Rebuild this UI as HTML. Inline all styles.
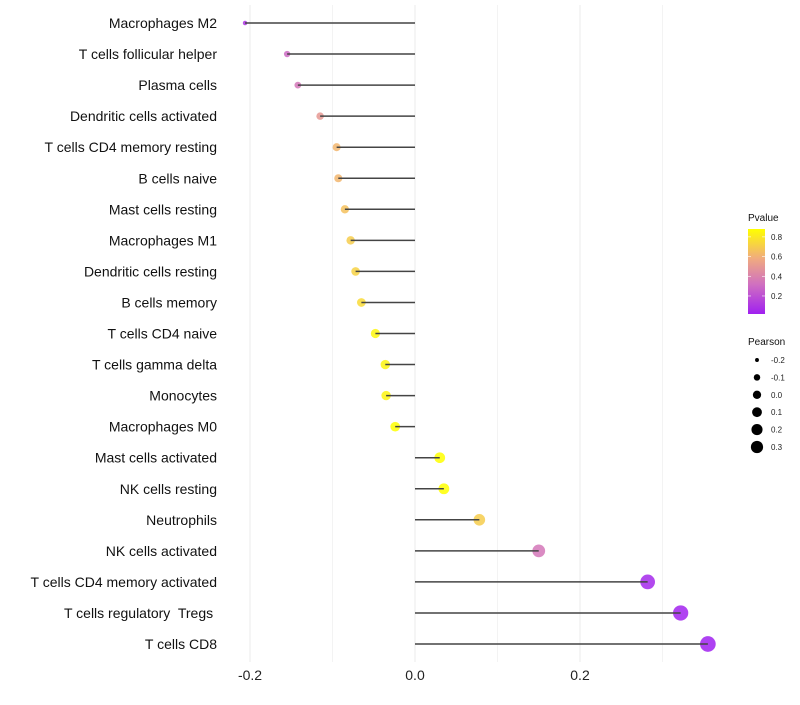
<!DOCTYPE html>
<html><head><meta charset="utf-8"><style>
body{margin:0;background:#fff;font-family:"Liberation Sans",sans-serif;}
svg text{font-family:"Liberation Sans",sans-serif;white-space:pre;}
</style></head><body>
<svg id="chart" width="800" height="700" xmlns="http://www.w3.org/2000/svg">
<defs><linearGradient id="pg" x1="0" y1="1" x2="0" y2="0">
<stop offset="0" stop-color="#a020f0"/><stop offset="0.35" stop-color="#d070c0"/><stop offset="0.65" stop-color="#f0aa80"/><stop offset="1" stop-color="#ffff00"/></linearGradient></defs>
<g id="grid"></g><g id="marks"></g><g id="stems"></g><g id="labels"></g><g id="legend"></g>
</svg>
<script>
const categories=["Macrophages M2","T cells follicular helper","Plasma cells","Dendritic cells activated","T cells CD4 memory resting","B cells naive","Mast cells resting","Macrophages M1","Dendritic cells resting","B cells memory","T cells CD4 naive","T cells gamma delta","Monocytes","Macrophages M0","Mast cells activated","NK cells resting","Neutrophils","NK cells activated","T cells CD4 memory activated","T cells regulatory  Tregs ","T cells CD8"];
const pearson=[-0.206,-0.155,-0.142,-0.115,-0.095,-0.093,-0.085,-0.078,-0.072,-0.065,-0.048,-0.036,-0.035,-0.024,0.030,0.035,0.078,0.150,0.282,0.322,0.355];
const pvalue=[0.1,0.3,0.35,0.5,0.62,0.62,0.66,0.7,0.72,0.75,0.85,0.84,0.84,0.88,0.88,0.88,0.7,0.35,0.05,0.03,0.02];
const xTicks=[-0.2,0.0,0.2];
const xMinor=[-0.1,0.1,0.3];
const pTicks=[0.2,0.4,0.6,0.8];
const sizeTicks=[-0.2,-0.1,0.0,0.1,0.2,0.3];
const NS="http://www.w3.org/2000/svg";
const X=v=>415+v*825;
const Y=i=>23+i*31.05;
const R=v=>1.12*Math.sqrt(Math.max(1,20.5+80.2*v));
const pY=p=>314-(p-0.017)/(0.88-0.017)*85;
function col(p){
 const stops=[[0,[160,32,240]],[0.35,[208,112,192]],[0.65,[240,170,128]],[1,[255,255,0]]];
 let t=Math.min(1,Math.max(0,(p-0.017)/(0.88-0.017)));
 for(let k=1;k<stops.length;k++){if(t<=stops[k][0]){const a=stops[k-1],b=stops[k];const f=(t-a[0])/(b[0]-a[0]);return "rgb("+a[1].map((c,j)=>Math.round(c+(b[1][j]-c)*f)).join(",")+")";}}
 return "rgb(255,255,0)";
}
function mk(tag,attrs,parent,text){const e=document.createElementNS(NS,tag);for(const k in attrs)e.setAttribute(k,attrs[k]);if(text!==undefined)e.textContent=text;parent.appendChild(e);return e;}
const grid=document.getElementById('grid'),marks=document.getElementById('marks'),stems=document.getElementById('stems'),labels=document.getElementById('labels'),legend=document.getElementById('legend');
xMinor.forEach(v=>{const l=mk('line',{x1:X(v),x2:X(v),y1:5,y2:662,stroke:'#f3f3f3','stroke-width':1},grid);

});
xTicks.forEach(v=>{const l=mk('line',{x1:X(v),x2:X(v),y1:5,y2:662,stroke:'#ebebeb','stroke-width':1},grid);


const t=mk('text',{x:X(v),y:680,'text-anchor':'middle','font-size':14,fill:'#222'},labels,v.toFixed(1));

});
categories.forEach((c,i)=>{
 const t=mk('text',{x:217,y:Y(i)+5,'text-anchor':'end','font-size':14,fill:'#111'},labels,c);
 
 
 const d=mk('circle',{cx:X(pearson[i]),cy:Y(i),r:R(pearson[i]),fill:col(pvalue[i]),'fill-opacity':0.85},marks);
 
 
 const ln=mk('line',{x1:X(0),x2:X(pearson[i]),y1:Y(i),y2:Y(i),stroke:'#444','stroke-width':1.5},stems);
 
 
});
let tt=mk('text',{x:748,y:221,'font-size':10,fill:'#111'},legend,'Pvalue');


let bar=mk('rect',{x:748,y:229,width:17,height:85,fill:'url(#pg)'},legend);


pTicks.forEach(p=>{const t=mk('text',{x:771,y:pY(p)+3,'font-size':8,fill:'#222'},legend,p.toFixed(1));


mk('line',{x1:748,x2:751,y1:pY(p),y2:pY(p),stroke:'#fff','stroke-width':0.6},legend);
mk('line',{x1:762,x2:765,y1:pY(p),y2:pY(p),stroke:'#fff','stroke-width':0.6},legend);});
let st=mk('text',{x:748,y:345,'font-size':10,fill:'#111'},legend,'Pearson');


sizeTicks.forEach((v,k)=>{const y=360+k*17.4;
const c=mk('circle',{cx:757,cy:y,r:R(v)*0.82,fill:'#000'},legend);


const t=mk('text',{x:771,y:y+3,'font-size':8,fill:'#222'},legend,v.toFixed(1));

});
</script>
</body></html>
